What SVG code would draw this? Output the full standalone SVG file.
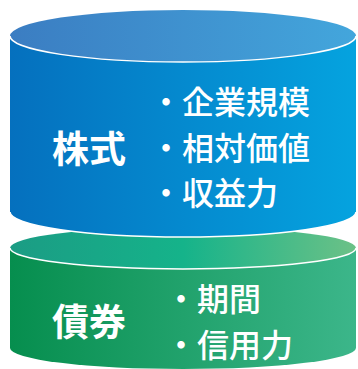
<svg xmlns="http://www.w3.org/2000/svg" width="358" height="369" viewBox="0 0 358 369">
<defs>
<linearGradient id="blueBody" x1="0" y1="0" x2="1" y2="0">
<stop offset="0" stop-color="#0570be"/>
<stop offset="1" stop-color="#05a3df"/>
</linearGradient>
<linearGradient id="blueTop" x1="0" y1="0" x2="1" y2="0">
<stop offset="0" stop-color="#3b7dc2"/>
<stop offset="1" stop-color="#43a6dc"/>
</linearGradient>
<linearGradient id="greenBody" x1="0" y1="0" x2="1" y2="0">
<stop offset="0" stop-color="#068e4e"/>
<stop offset="1" stop-color="#3cb68a"/>
</linearGradient>
<linearGradient id="greenTop" x1="0" y1="0" x2="1" y2="0">
<stop offset="0" stop-color="#1b9c84"/>
<stop offset="0.5" stop-color="#15b38a"/>
<stop offset="1" stop-color="#6cc187"/>
</linearGradient>
</defs>
<style>
.label{font-family:"Noto Sans CJK JP","Noto Sans CJK SC",sans-serif;font-weight:700;font-size:37px;fill:#fff}
.item{font-family:"Noto Sans CJK JP","Noto Sans CJK SC",sans-serif;font-weight:500;font-size:32px;fill:#fff}
.rim{fill:none;stroke:#fff;stroke-width:1.5}
</style>
<g id="bonds">
<path d="M10,248 L10,348 A173,21 0 0 0 356,348 L356,248 Z" fill="url(#greenBody)"/>
<ellipse cx="183" cy="248" rx="173" ry="21" fill="url(#greenTop)"/>
<path class="rim" d="M10,248 A173,21 0 0 0 356,248"/>
<text class="label" x="52" y="336">債券</text>
<text class="item" x="165" y="311">・期間</text>
<text class="item" x="165" y="357">・信用力</text>
</g>
<g id="stocks">
<path d="M10,36 L10,212 A173,25 0 0 0 356,212 L356,36 Z" fill="url(#blueBody)"/>
<path class="rim" d="M10,212 A173,25 0 0 0 356,212"/>
<ellipse cx="183" cy="36" rx="173" ry="26" fill="url(#blueTop)"/>
<path class="rim" d="M10,36 A173,26 0 0 0 356,36"/>
<text class="label" x="52" y="163">株式</text>
<text class="item" x="150" y="114">・企業規模</text>
<text class="item" x="150" y="160">・相対価値</text>
<text class="item" x="150" y="205">・収益力</text>
</g>
</svg>
